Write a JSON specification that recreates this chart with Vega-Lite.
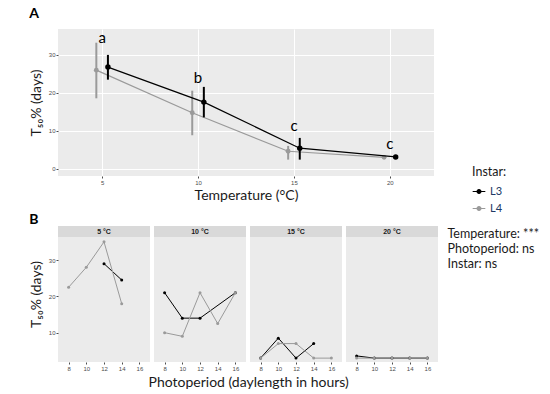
{
  "$schema": "https://vega.github.io/schema/vega-lite/v6.json",
  "background": "white",
  "padding": {"left": 29, "top": 7, "right": 0, "bottom": 0},
  "autosize": {"type": "pad"},
  "config": {
    "view": {"fill": "#ebebeb", "stroke": null},
    "font": "Lato",
    "axis": {"domain": false, "labelFont": "Liberation Sans", "labelFontSize": 6, "labelColor": "#4d4d4d", "tickColor": "#4d4d4d", "tickSize": 2, "labelPadding": 1, "gridColor": "#ffffff", "gridWidth": 1, "titleFont": "Lato", "titleFontSize": 14, "titleFontWeight": "normal", "titleColor": "#1a1a1a"},
    "title": {"font": "Lato", "fontSize": 14, "fontWeight": "bold", "anchor": "start", "color": "#000000"}
  },
  "datasets": {
    "temp": [
      {"temp": 5, "instar": "L3", "t50": 26.7, "lo": 23.4, "hi": 29.9},
      {"temp": 10, "instar": "L3", "t50": 17.5, "lo": 13.5, "hi": 21.5},
      {"temp": 15, "instar": "L3", "t50": 5.4, "lo": 2.4, "hi": 8.1},
      {"temp": 20, "instar": "L3", "t50": 3.1, "lo": 2.9, "hi": 3.3},
      {"temp": 5, "instar": "L4", "t50": 25.9, "lo": 18.5, "hi": 33.1},
      {"temp": 10, "instar": "L4", "t50": 14.7, "lo": 8.8, "hi": 20.5},
      {"temp": 15, "instar": "L4", "t50": 4.6, "lo": 2.4, "hi": 6.0},
      {"temp": 20, "instar": "L4", "t50": 3.0, "lo": 2.9, "hi": 3.1}
    ],
    "letters": [
      {"temp": 5, "letter": "a", "y": 32.9},
      {"temp": 10, "letter": "b", "y": 22.4},
      {"temp": 15, "letter": "c", "y": 10.0},
      {"temp": 20, "letter": "c", "y": 5.2}
    ],
    "photo": [
      {"panel": "5 °C", "instar": "L3", "photo": 12, "t50": 29},
      {"panel": "5 °C", "instar": "L3", "photo": 14, "t50": 24.5},
      {"panel": "5 °C", "instar": "L4", "photo": 8, "t50": 22.5},
      {"panel": "5 °C", "instar": "L4", "photo": 10, "t50": 28},
      {"panel": "5 °C", "instar": "L4", "photo": 12, "t50": 35},
      {"panel": "5 °C", "instar": "L4", "photo": 14, "t50": 18},
      {"panel": "10 °C", "instar": "L3", "photo": 8, "t50": 21},
      {"panel": "10 °C", "instar": "L3", "photo": 10, "t50": 14},
      {"panel": "10 °C", "instar": "L3", "photo": 12, "t50": 14},
      {"panel": "10 °C", "instar": "L3", "photo": 16, "t50": 21},
      {"panel": "10 °C", "instar": "L4", "photo": 8, "t50": 10},
      {"panel": "10 °C", "instar": "L4", "photo": 10, "t50": 9},
      {"panel": "10 °C", "instar": "L4", "photo": 12, "t50": 21},
      {"panel": "10 °C", "instar": "L4", "photo": 14, "t50": 12.5},
      {"panel": "10 °C", "instar": "L4", "photo": 16, "t50": 21},
      {"panel": "15 °C", "instar": "L3", "photo": 8, "t50": 3},
      {"panel": "15 °C", "instar": "L3", "photo": 10, "t50": 8.5},
      {"panel": "15 °C", "instar": "L3", "photo": 12, "t50": 3},
      {"panel": "15 °C", "instar": "L3", "photo": 14, "t50": 7},
      {"panel": "15 °C", "instar": "L4", "photo": 8, "t50": 3},
      {"panel": "15 °C", "instar": "L4", "photo": 10, "t50": 7},
      {"panel": "15 °C", "instar": "L4", "photo": 12, "t50": 7},
      {"panel": "15 °C", "instar": "L4", "photo": 14, "t50": 3},
      {"panel": "15 °C", "instar": "L4", "photo": 16, "t50": 3},
      {"panel": "20 °C", "instar": "L3", "photo": 8, "t50": 3.6},
      {"panel": "20 °C", "instar": "L3", "photo": 10, "t50": 3},
      {"panel": "20 °C", "instar": "L3", "photo": 12, "t50": 3},
      {"panel": "20 °C", "instar": "L3", "photo": 14, "t50": 3},
      {"panel": "20 °C", "instar": "L3", "photo": 16, "t50": 3},
      {"panel": "20 °C", "instar": "L4", "photo": 8, "t50": 3},
      {"panel": "20 °C", "instar": "L4", "photo": 10, "t50": 3},
      {"panel": "20 °C", "instar": "L4", "photo": 12, "t50": 3},
      {"panel": "20 °C", "instar": "L4", "photo": 14, "t50": 3},
      {"panel": "20 °C", "instar": "L4", "photo": 16, "t50": 3}
    ],
    "stats": [
      {"order": 1, "label": "Temperature: ***"},
      {"order": 2, "label": "Photoperiod: ns"},
      {"order": 3, "label": "Instar: ns"}
    ]
  },
  "spacing": 11,
  "vconcat": [
    {
      "width": 376,
      "height": 147,
      "title": {"text": "A", "frame": "bounds", "offset": 8},
      "layer": [
        {
          "data": {"name": "temp"},
          "transform": [{"filter": "datum.instar == 'L4'"}],
          "mark": {"type": "line", "xOffset": -5.8, "strokeWidth": 1.2},
          "encoding": {
            "x": {"field": "temp", "type": "quantitative", "scale": {"domain": [2.7, 22.3], "nice": false, "zero": false}, "axis": {"values": [5, 10, 15, 20], "title": "Temperature (°C)", "titlePadding": 3}},
            "y": {"field": "t50", "type": "quantitative", "scale": {"domain": [-1.9, 36.7], "nice": false, "zero": false}, "axis": {"values": [0, 10, 20, 30], "title": "T₅₀% (days)", "titlePadding": 5}},
            "color": {"field": "instar", "type": "nominal", "scale": {"domain": ["L3", "L4"], "range": ["#000000", "#9a9a9a"]}}
          }
        },
        {
          "data": {"name": "temp"},
          "transform": [{"filter": "datum.instar == 'L4'"}],
          "mark": {"type": "rule", "xOffset": -5.8, "strokeWidth": 2},
          "encoding": {
            "x": {"field": "temp", "type": "quantitative"},
            "y": {"field": "lo", "type": "quantitative"},
            "y2": {"field": "hi"},
            "color": {"field": "instar", "type": "nominal"}
          }
        },
        {
          "data": {"name": "temp"},
          "transform": [{"filter": "datum.instar == 'L4'"}],
          "mark": {"type": "point", "filled": true, "opacity": 1, "xOffset": -5.8, "size": 24},
          "encoding": {
            "x": {"field": "temp", "type": "quantitative"},
            "y": {"field": "t50", "type": "quantitative"},
            "color": {"field": "instar", "type": "nominal"}
          }
        },
        {
          "data": {"name": "temp"},
          "transform": [{"filter": "datum.instar == 'L3'"}],
          "mark": {"type": "line", "xOffset": 5.8, "strokeWidth": 1.2},
          "encoding": {
            "x": {"field": "temp", "type": "quantitative"},
            "y": {"field": "t50", "type": "quantitative"},
            "color": {"field": "instar", "type": "nominal"}
          }
        },
        {
          "data": {"name": "temp"},
          "transform": [{"filter": "datum.instar == 'L3'"}],
          "mark": {"type": "rule", "xOffset": 5.8, "strokeWidth": 2},
          "encoding": {
            "x": {"field": "temp", "type": "quantitative"},
            "y": {"field": "lo", "type": "quantitative"},
            "y2": {"field": "hi"},
            "color": {"field": "instar", "type": "nominal"}
          }
        },
        {
          "data": {"name": "temp"},
          "transform": [{"filter": "datum.instar == 'L3'"}],
          "mark": {"type": "point", "filled": true, "opacity": 1, "xOffset": 5.8, "size": 30},
          "encoding": {
            "x": {"field": "temp", "type": "quantitative"},
            "y": {"field": "t50", "type": "quantitative"},
            "color": {
              "field": "instar", "type": "nominal",
              "legend": {
                "orient": "none", "legendX": 414, "legendY": 137,
                "title": "Instar:", "titleFont": "Lato", "titleFontSize": 12.5, "titleFontWeight": "normal", "titleColor": "#1a1a1a", "titlePadding": 6,
                "labelFont": "Lato", "labelFontSize": 11, "labelColor": "#203864",
                "symbolType": "M-1,0H1M-0.3,0A0.3,0.3 0 1,0 0.3,0A0.3,0.3 0 1,0 -0.3,0",
                "symbolSize": 160, "symbolStrokeWidth": 1.2, "rowPadding": 5,
                "encode": {"symbols": {"update": {"fill": {"scale": "color", "field": "value"}, "stroke": {"scale": "color", "field": "value"}, "opacity": {"value": 1}}}}
              }
            }
          }
        },
        {
          "data": {"name": "letters"},
          "mark": {"type": "text", "font": "Lato", "fontSize": 15, "baseline": "alphabetic", "color": "#000000"},
          "encoding": {
            "x": {"field": "temp", "type": "quantitative"},
            "y": {"field": "y", "type": "quantitative"},
            "text": {"field": "letter"}
          }
        }
      ]
    },
    {
      "spacing": 9,
      "hconcat": [
        {
          "spacing": 4,
          "title": {"text": "Photoperiod (daylength in hours)", "orient": "bottom", "anchor": "middle", "frame": "bounds", "dx": 15, "fontSize": 14, "fontWeight": "normal", "color": "#1a1a1a", "offset": 5},
          "hconcat": [
            {
              "data": {"name": "photo"},
              "transform": [{"filter": "datum.panel == '5 °C'"}],
              "title": {"text": "B", "frame": "bounds", "offset": -1},
              "width": 92, "height": 136,
              "resolve": {"axis": {"x": "independent", "y": "independent"}},
              "layer": [
                {"transform": [{"aggregate": [{"op": "count", "as": "n"}], "groupby": ["panel"]}], "mark": {"type": "rect", "color": "#d9d9d9"}, "encoding": {
                  "x": {"datum": 6.8, "type": "quantitative", "scale": {"domain": [6.8, 17.2], "nice": false, "zero": false}, "axis": {"orient": "bottom", "values": [7, 9, 11, 13, 15, 17], "labels": false, "ticks": false, "domain": false, "title": null, "gridWidth": 0.5}},
                  "x2": {"datum": 17.2},
                  "y": {"datum": 36.34, "type": "quantitative", "scale": {"domain": [1.93, 39.37], "nice": false, "zero": false}, "axis": {"orient": "left", "values": [5, 15, 25, 35], "labels": false, "ticks": false, "domain": false, "title": null, "gridWidth": 0.5}},
                  "y2": {"datum": 39.37}}},
                {"mark": {"type": "line", "strokeWidth": 1}, "encoding": {
                  "x": {"field": "photo", "type": "quantitative", "axis": {"orient": "bottom", "values": [8, 10, 12, 14, 16], "title": null}},
                  "y": {"field": "t50", "type": "quantitative", "axis": {"orient": "left", "values": [10, 20, 30], "title": "T₅₀% (days)", "titlePadding": 5}},
                  "color": {"field": "instar", "type": "nominal"}}},
                {"mark": {"type": "point", "filled": true, "opacity": 1, "size": 9}, "encoding": {"x": {"field": "photo", "type": "quantitative", "axis": null}, "y": {"field": "t50", "type": "quantitative", "axis": null}, "color": {"field": "instar", "type": "nominal"}}},
                {"transform": [{"aggregate": [{"op": "count", "as": "n"}], "groupby": ["panel"]}], "mark": {"type": "text", "font": "Liberation Sans", "fontSize": 7, "fontWeight": "bold", "color": "#1a1a1a", "baseline": "middle"}, "encoding": {"x": {"datum": 12, "type": "quantitative", "axis": null}, "y": {"datum": 37.85, "type": "quantitative", "axis": null}, "text": {"field": "panel"}}}
              ]
            },
            {
              "data": {"name": "photo"},
              "transform": [{"filter": "datum.panel == '10 °C'"}],
              "width": 92, "height": 136,
              "resolve": {"axis": {"x": "independent", "y": "independent"}},
              "layer": [
                {"transform": [{"aggregate": [{"op": "count", "as": "n"}], "groupby": ["panel"]}], "mark": {"type": "rect", "color": "#d9d9d9"}, "encoding": {
                  "x": {"datum": 6.8, "type": "quantitative", "scale": {"domain": [6.8, 17.2], "nice": false, "zero": false}, "axis": {"orient": "bottom", "values": [7, 9, 11, 13, 15, 17], "labels": false, "ticks": false, "domain": false, "title": null, "gridWidth": 0.5}},
                  "x2": {"datum": 17.2},
                  "y": {"datum": 36.34, "type": "quantitative", "scale": {"domain": [1.93, 39.37], "nice": false, "zero": false}, "axis": {"orient": "left", "values": [5, 15, 25, 35], "labels": false, "ticks": false, "domain": false, "title": null, "gridWidth": 0.5}},
                  "y2": {"datum": 39.37}}},
                {"mark": {"type": "line", "strokeWidth": 1}, "encoding": {
                  "x": {"field": "photo", "type": "quantitative", "axis": {"orient": "bottom", "values": [8, 10, 12, 14, 16], "title": null}},
                  "y": {"field": "t50", "type": "quantitative", "axis": {"orient": "left", "values": [10, 20, 30], "labels": false, "ticks": false, "title": null}},
                  "color": {"field": "instar", "type": "nominal"}}},
                {"mark": {"type": "point", "filled": true, "opacity": 1, "size": 9}, "encoding": {"x": {"field": "photo", "type": "quantitative", "axis": null}, "y": {"field": "t50", "type": "quantitative", "axis": null}, "color": {"field": "instar", "type": "nominal"}}},
                {"transform": [{"aggregate": [{"op": "count", "as": "n"}], "groupby": ["panel"]}], "mark": {"type": "text", "font": "Liberation Sans", "fontSize": 7, "fontWeight": "bold", "color": "#1a1a1a", "baseline": "middle"}, "encoding": {"x": {"datum": 12, "type": "quantitative", "axis": null}, "y": {"datum": 37.85, "type": "quantitative", "axis": null}, "text": {"field": "panel"}}}
              ]
            },
            {
              "data": {"name": "photo"},
              "transform": [{"filter": "datum.panel == '15 °C'"}],
              "width": 92, "height": 136,
              "resolve": {"axis": {"x": "independent", "y": "independent"}},
              "layer": [
                {"transform": [{"aggregate": [{"op": "count", "as": "n"}], "groupby": ["panel"]}], "mark": {"type": "rect", "color": "#d9d9d9"}, "encoding": {
                  "x": {"datum": 6.8, "type": "quantitative", "scale": {"domain": [6.8, 17.2], "nice": false, "zero": false}, "axis": {"orient": "bottom", "values": [7, 9, 11, 13, 15, 17], "labels": false, "ticks": false, "domain": false, "title": null, "gridWidth": 0.5}},
                  "x2": {"datum": 17.2},
                  "y": {"datum": 36.34, "type": "quantitative", "scale": {"domain": [1.93, 39.37], "nice": false, "zero": false}, "axis": {"orient": "left", "values": [5, 15, 25, 35], "labels": false, "ticks": false, "domain": false, "title": null, "gridWidth": 0.5}},
                  "y2": {"datum": 39.37}}},
                {"mark": {"type": "line", "strokeWidth": 1}, "encoding": {
                  "x": {"field": "photo", "type": "quantitative", "axis": {"orient": "bottom", "values": [8, 10, 12, 14, 16], "title": null}},
                  "y": {"field": "t50", "type": "quantitative", "axis": {"orient": "left", "values": [10, 20, 30], "labels": false, "ticks": false, "title": null}},
                  "color": {"field": "instar", "type": "nominal"}}},
                {"mark": {"type": "point", "filled": true, "opacity": 1, "size": 9}, "encoding": {"x": {"field": "photo", "type": "quantitative", "axis": null}, "y": {"field": "t50", "type": "quantitative", "axis": null}, "color": {"field": "instar", "type": "nominal"}}},
                {"transform": [{"aggregate": [{"op": "count", "as": "n"}], "groupby": ["panel"]}], "mark": {"type": "text", "font": "Liberation Sans", "fontSize": 7, "fontWeight": "bold", "color": "#1a1a1a", "baseline": "middle"}, "encoding": {"x": {"datum": 12, "type": "quantitative", "axis": null}, "y": {"datum": 37.85, "type": "quantitative", "axis": null}, "text": {"field": "panel"}}}
              ]
            },
            {
              "data": {"name": "photo"},
              "transform": [{"filter": "datum.panel == '20 °C'"}],
              "width": 92, "height": 136,
              "resolve": {"axis": {"x": "independent", "y": "independent"}},
              "layer": [
                {"transform": [{"aggregate": [{"op": "count", "as": "n"}], "groupby": ["panel"]}], "mark": {"type": "rect", "color": "#d9d9d9"}, "encoding": {
                  "x": {"datum": 6.8, "type": "quantitative", "scale": {"domain": [6.8, 17.2], "nice": false, "zero": false}, "axis": {"orient": "bottom", "values": [7, 9, 11, 13, 15, 17], "labels": false, "ticks": false, "domain": false, "title": null, "gridWidth": 0.5}},
                  "x2": {"datum": 17.2},
                  "y": {"datum": 36.34, "type": "quantitative", "scale": {"domain": [1.93, 39.37], "nice": false, "zero": false}, "axis": {"orient": "left", "values": [5, 15, 25, 35], "labels": false, "ticks": false, "domain": false, "title": null, "gridWidth": 0.5}},
                  "y2": {"datum": 39.37}}},
                {"mark": {"type": "line", "strokeWidth": 1}, "encoding": {
                  "x": {"field": "photo", "type": "quantitative", "axis": {"orient": "bottom", "values": [8, 10, 12, 14, 16], "title": null}},
                  "y": {"field": "t50", "type": "quantitative", "axis": {"orient": "left", "values": [10, 20, 30], "labels": false, "ticks": false, "title": null}},
                  "color": {"field": "instar", "type": "nominal"}}},
                {"mark": {"type": "point", "filled": true, "opacity": 1, "size": 9}, "encoding": {"x": {"field": "photo", "type": "quantitative", "axis": null}, "y": {"field": "t50", "type": "quantitative", "axis": null}, "color": {"field": "instar", "type": "nominal"}}},
                {"transform": [{"aggregate": [{"op": "count", "as": "n"}], "groupby": ["panel"]}], "mark": {"type": "text", "font": "Liberation Sans", "fontSize": 7, "fontWeight": "bold", "color": "#1a1a1a", "baseline": "middle"}, "encoding": {"x": {"datum": 12, "type": "quantitative", "axis": null}, "y": {"datum": 37.85, "type": "quantitative", "axis": null}, "text": {"field": "panel"}}}
              ]
            }
          ]
        },
        {
          "data": {"name": "stats"},
          "width": 1,
          "height": 45,
          "view": {"fill": null},
          "mark": {"type": "text", "align": "left", "baseline": "middle", "font": "Lato", "fontSize": 12.5, "color": "#1a1a1a"},
          "encoding": {
            "y": {"field": "order", "type": "ordinal", "axis": null},
            "text": {"field": "label"}
          }
        }
      ]
    }
  ]
}
